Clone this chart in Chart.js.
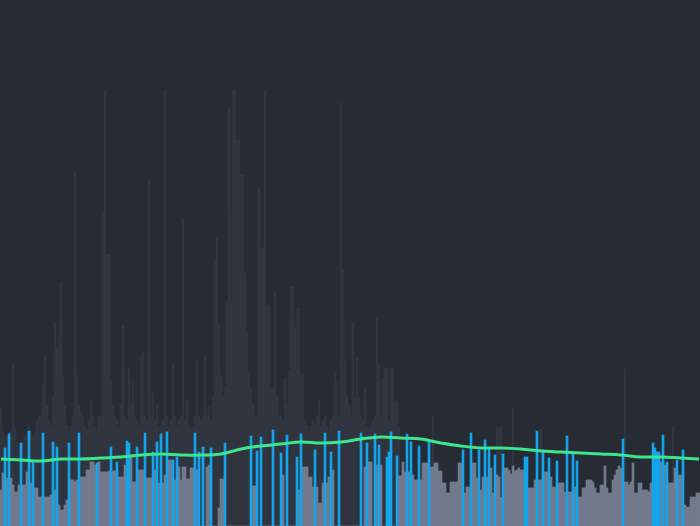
<!DOCTYPE html>
<html>
<head>
<meta charset="utf-8">
<script src="https://cdn.jsdelivr.net/npm/chart.js@4/dist/chart.umd.min.js"></script>
<style>
  html, body { margin: 0; padding: 0; background: #272b34; }
  #wrap { width: 700px; height: 526px; position: relative; }
</style>
</head>
<body>
<div id="wrap"><canvas id="volumeChart"></canvas></div>
<script>
// Background volume (tall dark bars), one value per day
const peakVolume = [
  118, 95, 90, 88, 92, 96, 163, 98, 85, 80,
  80, 85, 90, 95, 100, 92, 88, 95, 105, 110,
  110, 142, 170, 120, 105, 100, 130, 204, 178, 189,
  244, 150, 120, 100, 95, 100, 110, 354, 151, 120,
  115, 110, 100, 95, 105, 126, 110, 100, 95, 110,
  110, 315, 436, 271, 271, 146, 120, 110, 105, 100,
  123, 200, 110, 105, 158, 120, 143, 110, 105, 100,
  168, 174, 110, 105, 347, 110, 133, 105, 123, 100,
  100, 105, 436, 110, 100, 105, 162, 110, 100, 105,
  110, 308, 105, 126, 100, 95, 100, 110, 166, 110,
  105, 110, 170, 110, 119, 105, 130, 266, 288, 203,
  150, 130, 140, 224, 419, 311, 436, 436, 386, 386,
  351, 351, 253, 194, 153, 138, 123, 110, 110, 339,
  278, 278, 436, 221, 221, 139, 139, 233, 131, 110,
  110, 105, 148, 120, 156, 239, 239, 199, 218, 218,
  153, 153, 105, 100, 95, 100, 105, 100, 110, 126,
  100, 105, 110, 100, 95, 105, 110, 153, 143, 110,
  423, 256, 165, 131, 120, 110, 204, 128, 168, 128,
  110, 105, 139, 100, 95, 100, 105, 110, 208, 163,
  110, 148, 158, 158, 105, 158, 158, 125, 125, 100,
  0, 0, 0, 0, 0, 0, 0, 0, 0, 0,
  0, 0, 0, 0, 0, 0, 110, 0, 0, 0,
  0, 0, 0, 0, 0, 0, 0, 0, 0, 0,
  0, 0, 0, 0, 0, 0, 0, 0, 0, 0,
  0, 0, 0, 0, 0, 0, 0, 0, 99, 99,
  99, 0, 0, 0, 0, 0, 118, 0, 0, 0,
  0, 0, 0, 0, 0, 0, 0, 0, 0, 0,
  97, 0, 0, 0, 0, 0, 0, 0, 0, 0,
  0, 0, 0, 0, 0, 0, 0, 0, 0, 0,
  0, 0, 0, 0, 0, 0, 0, 0, 0, 0,
  0, 0, 0, 0, 0, 0, 0, 0, 0, 0,
  0, 0, 157, 0, 0, 0, 0, 0, 0, 0,
  0, 0, 0, 0, 0, 0, 0, 0, 0, 0,
  0, 0, 0, 0, 0, 0, 100, 0, 0, 0,
  0, 0, 0, 0, 0, 0, 0, 0, 0, 0
];

// Daily volume (front bars)
const dailyVolume = [
  36, 53, 78, 48, 92, 48, 41, 34, 34, 41,
  83, 41, 41, 54, 95, 43, 64, 38, 38, 29,
  29, 93, 29, 29, 29, 31, 84, 36, 79, 21,
  16, 16, 21, 26, 83, 46, 46, 44, 46, 93,
  49, 49, 49, 56, 56, 64, 64, 61, 63, 64,
  54, 54, 54, 54, 55, 79, 55, 55, 64, 49,
  49, 49, 61, 85, 83, 69, 44, 44, 79, 56,
  56, 56, 93, 48, 48, 48, 74, 56, 84, 43,
  92, 43, 51, 94, 66, 66, 66, 46, 69, 59,
  46, 59, 59, 47, 47, 58, 58, 93, 56, 74,
  0, 79, 0, 59, 61, 78, 0, 0, 0, 18,
  47, 47, 83, 0, 0, 0, 0, 0, 0, 0,
  0, 0, 0, 0, 0, 90, 40, 40, 75, 0,
  89, 0, 0, 0, 0, 0, 96, 0, 0, 0,
  73, 51, 0, 91, 0, 0, 0, 0, 69, 36,
  92, 59, 59, 59, 49, 49, 39, 76, 39, 23,
  23, 43, 93, 43, 49, 74, 56, 0, 0, 95,
  0, 0, 0, 0, 0, 0, 0, 0, 0, 0,
  93, 0, 59, 83, 64, 64, 0, 92, 61, 81,
  61, 0, 0, 69, 74, 94, 0, 0, 70, 50,
  50, 64, 54, 92, 54, 84, 51, 46, 46, 80,
  46, 63, 63, 63, 84, 59, 59, 63, 63, 55,
  55, 43, 43, 33, 33, 44, 44, 44, 44, 63,
  63, 76, 33, 39, 39, 93, 63, 63, 48, 76,
  36, 49, 86, 49, 78, 58, 33, 71, 51, 49,
  29, 72, 58, 58, 56, 52, 60, 55, 56, 58,
  56, 56, 69, 69, 38, 38, 38, 46, 95, 46,
  46, 76, 54, 54, 68, 49, 39, 39, 65, 43,
  43, 43, 34, 90, 34, 34, 73, 39, 65, 29,
  29, 38, 38, 46, 46, 46, 44, 38, 33, 33,
  41, 41, 60, 38, 33, 33, 46, 51, 56, 60,
  58, 87, 44, 44, 41, 44, 63, 33, 33, 43,
  43, 36, 36, 36, 34, 43, 83, 78, 74, 74,
  64, 91, 61, 64, 43, 43, 43, 58, 66, 51,
  51, 76, 21, 19, 19, 29, 29, 29, 33, 33
];

// Days drawn in blue
const highlightDays = [
  2, 4, 10, 14, 16, 21, 26, 28, 34, 39, 48, 55, 58, 63, 64, 68, 72, 76, 78,
  80, 83, 86, 88, 97, 99, 101, 105, 112, 125, 128, 130, 136, 140, 143, 148,
  150, 157, 162, 165, 169, 180, 183, 187, 189, 193, 194, 195, 198, 203, 205,
  209, 214, 231, 235, 239, 242, 244, 247, 251, 262, 263, 268, 271, 274, 278,
  283, 286, 288, 311, 326, 327, 328, 329, 331, 333, 338, 341
];

// Moving average, sampled every 10 days
const trendDays = [0, 10, 20, 30, 40, 50, 60, 70, 80, 90, 100, 110, 120, 130, 140, 150, 160, 170,
  180, 190, 200, 210, 220, 230, 240, 250, 260, 270, 280, 290, 300, 310, 320, 330, 340, 349];
const trendValues = [67, 66, 65, 67, 67, 68, 69, 71, 72, 71, 71, 72, 77, 80, 82, 84, 83, 84,
  87, 89, 88, 87, 83, 80, 78, 78, 77, 75, 74, 73, 72, 71, 69, 69, 68, 67];

const labels = dailyVolume.map((_, i) => 'Day ' + (i + 1));
const isHighlight = i => highlightDays.includes(i);

const trendLine = labels.map(() => null);
trendDays.forEach((d, k) => { trendLine[d] = trendValues[k]; });

const barBase = {
  type: 'bar',
  grouped: false,
  barPercentage: 1,
  categoryPercentage: 1,
  borderWidth: 0
};

new Chart(document.getElementById('volumeChart'), {
  data: {
    labels,
    datasets: [
      {
        type: 'line',
        label: 'Trend',
        data: trendLine,
        borderColor: '#3de58c',
        borderWidth: 3,
        pointRadius: 0,
        tension: 0.4,
        spanGaps: true,
        order: 0
      },
      {
        ...barBase,
        label: 'Highlighted',
        data: dailyVolume.map((v, i) => isHighlight(i) ? v : null),
        backgroundColor: '#14a4ec',
        order: 1
      },
      {
        ...barBase,
        label: 'Volume',
        data: dailyVolume.map((v, i) => isHighlight(i) ? null : v),
        backgroundColor: '#737a8c',
        order: 2
      },
      {
        ...barBase,
        label: 'Peak',
        data: peakVolume,
        backgroundColor: '#31353f',
        order: 3
      }
    ]
  },
  options: {
    responsive: true,
    maintainAspectRatio: false,
    animation: false,
    layout: { padding: 0 },
    plugins: {
      legend: { display: false },
      tooltip: { enabled: false }
    },
    scales: {
      x: { display: false },
      y: { display: false, min: 0, max: 526 }
    }
  }
});
</script>
</body>
</html>
